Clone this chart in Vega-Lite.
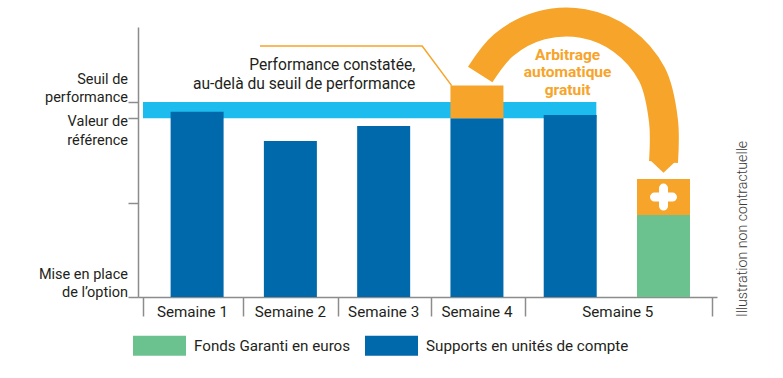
{
  "$schema": "https://vega.github.io/schema/vega-lite/v6.json",
  "width": 579,
  "height": 270,
  "autosize": {"type": "none"},
  "padding": {"left": 138, "top": 27, "right": 66, "bottom": 81},
  "background": "white",
  "config": {
    "view": {"stroke": null},
    "font": "Roboto",
    "text": {"font": "Roboto"}
  },
  "datasets": {
    "band": [{"sx": 0.42, "to": 5.28, "vy": 66.2, "hi": 72.2}],
    "bars": [
      {"sx": 1, "part": "Supports en unités de compte", "vy": 0, "hi": 68.6},
      {"sx": 2, "part": "Supports en unités de compte", "vy": 0, "hi": 57.8},
      {"sx": 3, "part": "Supports en unités de compte", "vy": 0, "hi": 63.3},
      {"sx": 4, "part": "Supports en unités de compte", "vy": 0, "hi": 66.2},
      {"sx": 4, "part": "Performance constatée", "vy": 66.2, "hi": 78.3},
      {"sx": 5, "part": "Supports en unités de compte", "vy": 0, "hi": 67.4},
      {"sx": 6, "part": "Fonds Garanti en euros", "vy": 0, "hi": 30.4},
      {"sx": 6, "part": "Arbitrage", "vy": 30.4, "hi": 43.7}
    ],
    "weeks": [
      {"t": "Semaine 1", "sx": 0.95, "vy": 0},
      {"t": "Semaine 2", "sx": 2.0, "vy": 0},
      {"t": "Semaine 3", "sx": 3.0, "vy": 0},
      {"t": "Semaine 4", "sx": 4.0, "vy": 0},
      {"t": "Semaine 5", "sx": 5.51, "vy": 0}
    ],
    "ylabBottom": [
      {"t": "Seuil de\nperformance", "sx": 0.42, "vy": 72.2},
      {"t": "Mise en place\nde l’option", "sx": 0.42, "vy": 0}
    ],
    "ylabTop": [
      {"t": "Valeur de\nréférence", "sx": 0.42, "vy": 66.2}
    ],
    "callout": [
      {"k": 1, "sx": 1.674, "vy": 92.96},
      {"k": 2, "sx": 3.413, "vy": 92.96},
      {"k": 3, "sx": 3.729, "vy": 78.3}
    ],
    "arc": [
      {"k": 1, "sx": 4.035, "vy": 82.4},
      {"k": 2, "sx": 4.286, "vy": 93.3},
      {"k": 3, "sx": 4.687, "vy": 100.6},
      {"k": 4, "sx": 5.138, "vy": 101.3},
      {"k": 5, "sx": 5.555, "vy": 95.2},
      {"k": 6, "sx": 5.877, "vy": 82.4},
      {"k": 7, "sx": 6.0, "vy": 65.2},
      {"k": 8, "sx": 6.0, "vy": 50.0}
    ],
    "head": [{"sx": 6.0, "vy": 48.5}],
    "plus": [{"sx": 6.0, "vy": 37.0}],
    "arb": [{"sx": 4.972, "vy": 87.8, "t": "Arbitrage\nautomatique\ngratuit"}],
    "perf": [{"sx": 3.339, "vy": 83.9, "t": "Performance constatée,\nau-delà du seuil de performance"}],
    "note": [{"sx": 6.848, "vy": 25.2, "t": "Illustration non contractuelle"}]
  },
  "encoding": {
    "x": {
      "field": "sx", "type": "quantitative",
      "scale": {"domain": [0.42, 6.52], "nice": false, "zero": false},
      "axis": {
        "values": [0.42, 1.495, 2.506, 3.507, 4.519, 6.52],
        "labels": false, "tickSize": 19, "tickColor": "#8c8c8c", "tickWidth": 1.5,
        "domainColor": "#8c8c8c", "domainWidth": 1.5, "grid": false, "title": null
      }
    },
    "y": {
      "field": "vy", "type": "quantitative",
      "scale": {"domain": [0, 100], "nice": false, "zero": false},
      "axis": {
        "values": [0, 34.7, 66.2, 72.2],
        "labels": false, "tickSize": 10, "tickColor": "#8c8c8c", "tickWidth": 1.5,
        "domainColor": "#8c8c8c", "domainWidth": 1.5, "grid": false, "title": null
      }
    }
  },
  "layer": [
    {
      "data": {"name": "band"},
      "mark": {"type": "rect", "color": "#1cbcee"},
      "encoding": {"x2": {"field": "to"}, "y2": {"field": "hi"}}
    },
    {
      "data": {"name": "bars"},
      "mark": {"type": "bar", "width": 53},
      "encoding": {
        "y2": {"field": "hi"},
        "color": {
          "field": "part", "type": "nominal",
          "scale": {
            "domain": ["Fonds Garanti en euros", "Supports en unités de compte", "Performance constatée", "Arbitrage"],
            "range": ["#6cc28f", "#0069ab", "#f7a42a", "#f7a42a"]
          },
          "legend": {
            "values": ["Fonds Garanti en euros", "Supports en unités de compte"],
            "orient": "none", "legendX": -5, "legendY": 292, "direction": "horizontal",
            "title": null, "padding": 0,
            "symbolType": "M-1,-0.377H1V0.377H-1Z", "symbolSize": 2809, "symbolStrokeWidth": 0,
            "labelFont": "Roboto", "labelFontSize": 15.2, "labelColor": "#231f20",
            "labelOffset": 8, "columnPadding": 14, "labelLimit": 400
          }
        }
      }
    },
    {
      "data": {"name": "weeks"},
      "mark": {"type": "text", "baseline": "alphabetic", "dy": 20, "fontSize": 15.2, "color": "#231f20"},
      "encoding": {"text": {"field": "t"}}
    },
    {
      "data": {"name": "ylabBottom"},
      "mark": {"type": "text", "lineBreak": "\n", "align": "right", "baseline": "alphabetic", "dx": -15, "dy": -18.5, "fontSize": 14.5, "lineHeight": 18.5, "color": "#231f20"},
      "encoding": {"text": {"field": "t"}}
    },
    {
      "data": {"name": "ylabTop"},
      "mark": {"type": "text", "lineBreak": "\n", "align": "right", "baseline": "alphabetic", "dx": -15, "dy": 7.5, "fontSize": 14.5, "lineHeight": 19, "color": "#231f20"},
      "encoding": {"text": {"field": "t"}}
    },
    {
      "data": {"name": "callout"},
      "mark": {"type": "line", "color": "#f7a42a", "strokeWidth": 1.5},
      "encoding": {"order": {"field": "k"}}
    },
    {
      "data": {"name": "arc"},
      "mark": {"type": "line", "color": "#f7a42a", "strokeWidth": 29, "strokeCap": "butt", "interpolate": "catmull-rom"},
      "encoding": {"order": {"field": "k"}}
    },
    {
      "data": {"name": "head"},
      "mark": {"type": "point", "shape": "M-1,-0.45L1,-0.45L0,0.5Z", "size": 729, "filled": true, "color": "#f7a42a", "opacity": 1, "strokeWidth": 0}
    },
    {
      "data": {"name": "plus"},
      "mark": {"type": "point", "shape": "M-1,0H1M0,-1V1", "size": 324, "filled": false, "stroke": "white", "strokeWidth": 9, "strokeCap": "round", "opacity": 1}
    },
    {
      "data": {"name": "arb"},
      "mark": {"type": "text", "lineBreak": "\n", "align": "center", "baseline": "alphabetic", "fontSize": 15.5, "fontWeight": "bold", "lineHeight": 17.5, "color": "#f7a42a"},
      "encoding": {"text": {"field": "t"}}
    },
    {
      "data": {"name": "perf"},
      "mark": {"type": "text", "lineBreak": "\n", "align": "right", "baseline": "alphabetic", "fontSize": 15.6, "lineHeight": 19, "color": "#231f20"},
      "encoding": {"text": {"field": "t"}}
    },
    {
      "data": {"name": "note"},
      "mark": {"type": "text", "angle": 270, "align": "center", "baseline": "middle", "fontSize": 14.2, "fontWeight": 300, "color": "#3a3a3a"},
      "encoding": {"text": {"field": "t"}}
    }
  ]
}
